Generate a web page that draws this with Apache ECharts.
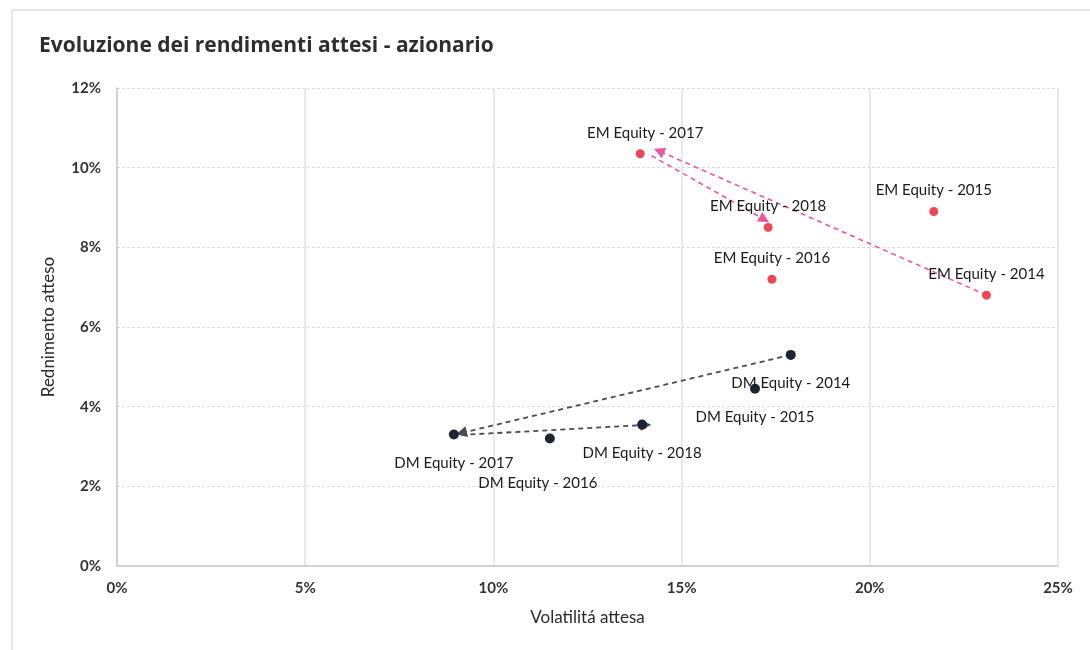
<!DOCTYPE html>
<html>
<head>
<meta charset="utf-8">
<title>Evoluzione dei rendimenti attesi - azionario</title>
<script src="https://cdn.jsdelivr.net/npm/echarts@6/dist/echarts.min.js"></script>
<style>
  html, body { margin: 0; padding: 0; background: #fff; }
  #chart { width: 1090px; height: 650px; }
</style>
</head>
<body>
<div id="chart"></div>
<script>
// dati (valori in %)
const years = ['2014', '2015', '2016', '2017', '2018']
const emVol = [23.1, 21.7, 17.4, 13.9, 17.3]
const emRet = [6.8, 8.9, 7.2, 10.35, 8.5]
const dmVol = [17.9, 16.95, 11.5, 8.95, 13.95]
const dmRet = [5.3, 4.45, 3.2, 3.3, 3.55]

// frecce: 2014 -> 2017 -> 2018
const emPath = [
  [[23.1, 6.8], [14.4, 10.42]],
  [[14.2, 10.3], [17.2, 8.7]]
]
const dmPath = [
  [[17.9, 5.3], [9.15, 3.34]],
  [[9.15, 3.29], [14.05, 3.54]]
]

const xTicks = [0, 5, 10, 15, 20, 25]
const yTicks = [0, 2, 4, 6, 8, 10, 12]

const labelFont = 'Lato, "Open Sans", sans-serif'

// spostamenti manuali delle etichette
const emLabelOffset = { '2017': [5, 0] }
const dmLabelOffset = { '2016': [-12, 16] }

function buildPoints(name, vol, ret, offsets) {
  return years.map((y, i) => {
    const item = { name: name + ' - ' + y, value: [vol[i], ret[i]] }
    if (offsets[y]) item.label = { offset: offsets[y] }
    return item
  })
}

const myChart = echarts.init(document.getElementById('chart'))

const option = {
  backgroundColor: '#ffffff',
  animation: false,
  title: {
    text: 'Evoluzione dei rendimenti attesi - azionario',
    left: 34,
    top: 31,
    textStyle: {
      fontFamily: '"Open Sans", sans-serif',
      fontWeight: 'bold',
      fontSize: 21,
      color: '#2e2e2e'
    }
  },
  // cornice esterna
  graphic: [
    { type: 'line', shape: { x1: 12, y1: 10, x2: 1090, y2: 10 }, style: { stroke: '#dcdcdc', lineWidth: 1.5 } },
    { type: 'line', shape: { x1: 12, y1: 10, x2: 12, y2: 650 }, style: { stroke: '#dcdcdc', lineWidth: 1.5 } }
  ],
  grid: {
    left: 117,
    right: 32,
    top: 88,
    bottom: 84
  },
  xAxis: {
    type: 'value',
    min: xTicks[0],
    max: xTicks[xTicks.length - 1],
    interval: 5,
    name: 'Volatilitá attesa',
    nameLocation: 'middle',
    nameGap: 43,
    nameTextStyle: { fontFamily: labelFont, fontSize: 17, color: '#2a2a2a' },
    axisLine: { show: true, lineStyle: { color: '#c8c8c8', width: 1.5 } },
    axisTick: { show: false },
    axisLabel: {
      margin: 15,
      fontFamily: labelFont,
      fontSize: 15,
      fontWeight: 'bold',
      color: '#333',
      formatter: '{value}%'
    },
    splitLine: { show: true, lineStyle: { color: '#e2e2e2', width: 1.5 } }
  },
  yAxis: {
    type: 'value',
    min: yTicks[0],
    max: yTicks[yTicks.length - 1],
    interval: 2,
    name: 'Rednimento atteso',
    nameLocation: 'middle',
    nameGap: 60,
    nameTextStyle: { fontFamily: labelFont, fontSize: 17, color: '#2a2a2a' },
    axisLine: { show: true, lineStyle: { color: '#c8c8c8', width: 1.5 } },
    axisTick: { show: false },
    axisLabel: {
      margin: 16,
      fontFamily: labelFont,
      fontSize: 15,
      fontWeight: 'bold',
      color: '#333',
      formatter: '{value}%'
    },
    splitLine: { show: true, lineStyle: { color: '#dadada', width: 1, type: [3, 2] } }
  },
  series: [
    {
      name: 'EM path',
      type: 'lines',
      coordinateSystem: 'cartesian2d',
      symbol: ['none', 'triangle'],
      symbolSize: 11,
      z: 2,
      lineStyle: { color: '#e85a9c', width: 1.6, type: [5, 4], opacity: 1 },
      itemStyle: { color: '#e0307f' },
      data: emPath.map(p => ({ coords: p }))
    },
    {
      name: 'DM path',
      type: 'lines',
      coordinateSystem: 'cartesian2d',
      symbol: ['none', 'triangle'],
      symbolSize: 11,
      z: 2,
      lineStyle: { color: '#4b4b55', width: 1.8, type: [5, 4], opacity: 1 },
      itemStyle: { color: '#2a2f3a' },
      data: dmPath.map(p => ({ coords: p }))
    },
    {
      name: 'EM Equity',
      type: 'scatter',
      symbolSize: 9,
      z: 3,
      itemStyle: { color: '#ef4657', opacity: 1 },
      label: {
        show: true,
        position: 'top',
        distance: 9,
        formatter: '{b}',
        fontFamily: labelFont,
        fontSize: 15,
        color: '#1a1a1a'
      },
      data: buildPoints('EM Equity', emVol, emRet, emLabelOffset)
    },
    {
      name: 'DM Equity',
      type: 'scatter',
      symbolSize: 10,
      z: 3,
      itemStyle: { color: '#1d2533', opacity: 1 },
      label: {
        show: true,
        position: 'bottom',
        distance: 16,
        formatter: '{b}',
        fontFamily: labelFont,
        fontSize: 15,
        color: '#1a1a1a'
      },
      data: buildPoints('DM Equity', dmVol, dmRet, dmLabelOffset)
    }
  ]
}

myChart.setOption(option)
</script>
</body>
</html>
